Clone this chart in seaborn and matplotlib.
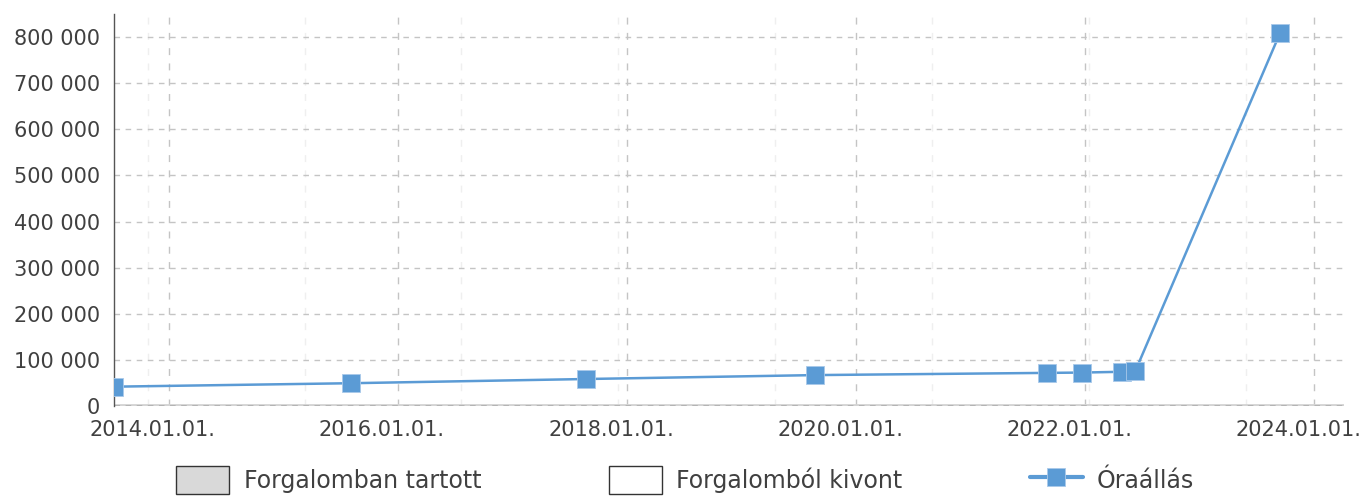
import pandas as pd
import matplotlib.pyplot as plt
import matplotlib.dates as mdates
import matplotlib.ticker as mticker
import matplotlib.transforms as mtransforms
from matplotlib.patches import Patch
from matplotlib.lines import Line2D
import seaborn as sns

# Óraállás adatok
dates = ['2013-07-10', '2015-08-04', '2017-08-22', '2019-08-22', '2021-09-01',
         '2021-12-22', '2022-04-28', '2022-06-09', '2023-09-14']
readings = [41900, 49400, 58500, 67000, 71800, 72500, 74200, 75000, 808700]

year_ticks = ['2014-01-01', '2016-01-01', '2018-01-01', '2020-01-01', '2022-01-01', '2024-01-01']
y_ticks = [0, 100000, 200000, 300000, 400000, 500000, 600000, 700000, 800000]
legend_labels = ['Forgalomban tartott', 'Forgalomból kivont', 'Óraállás']

df = pd.DataFrame({'date': pd.to_datetime(dates), 'km': readings})

sns.set_style("white")
plt.rcParams['font.family'] = ['DejaVu Sans']
text_color = '#404040'
line_color = '#5b9bd5'

fig = plt.figure(figsize=(13.62, 4.97), dpi=100)
ax = fig.add_axes([0.0837, 0.1831, 0.9031, 0.7887])

sns.lineplot(data=df, x='date', y='km', ax=ax, color=line_color, linewidth=1.8,
             marker='s', markersize=13, markeredgecolor='#a9c9ea', markeredgewidth=0.6,
             zorder=5, clip_on=True)

ax.set_xlim(pd.Timestamp('2013-07-10'), pd.Timestamp('2024-04-05'))
ax.set_ylim(0, 850000)

ax.set_xticks(pd.to_datetime(year_ticks))
ax.xaxis.set_major_formatter(mdates.DateFormatter('%Y.%m.%d.'))
ax.set_xticks(pd.date_range('2013-10-26', periods=8, freq='500D'), minor=True)
ax.set_yticks(y_ticks)
ax.yaxis.set_major_formatter(mticker.FuncFormatter(lambda v, p: f'{int(v):,}'.replace(',', ' ')))

ax.grid(axis='y', which='major', color='#c4c4c4', linestyle=(0, (4, 4)), linewidth=1)
ax.grid(axis='x', which='major', color='#c4c4c4', linestyle=(0, (5, 6)), linewidth=1)
ax.grid(axis='x', which='minor', color='#efefef', linestyle=(0, (5, 6)), linewidth=1)
ax.set_axisbelow(True)

# alsó nullvonal
ax.axhline(0, color='#d4d4d4', linewidth=3.5, zorder=2)
ax.axhline(0, color='#333333', linewidth=1, linestyle=(0, (4, 4)), zorder=3)

for s in ['top', 'right', 'bottom']:
    ax.spines[s].set_visible(False)
ax.spines['left'].set_color('#555555')
ax.spines['left'].set_linewidth(1)

ax.tick_params(axis='both', which='major', direction='out', length=6, width=1,
               color='#444444', labelsize=15, labelcolor=text_color)
ax.tick_params(axis='x', which='minor', length=0)
ax.tick_params(axis='x', pad=4)
ax.tick_params(axis='y', pad=4)
ax.set_xlabel('')
ax.set_ylabel('')

offset = mtransforms.ScaledTranslation(-16 / 100, 0, fig.dpi_scale_trans)
for lbl in ax.get_xticklabels():
    lbl.set_transform(lbl.get_transform() + offset)

handles = [
    Patch(facecolor='#d9d9d9', edgecolor='#333333', linewidth=1),
    Patch(facecolor='white', edgecolor='#333333', linewidth=1),
    Line2D([0], [0], color=line_color, linewidth=3, marker='s', markersize=13,
           markeredgecolor='#a9c9ea', markeredgewidth=0.6),
]
leg = fig.legend(handles, legend_labels, loc='center', bbox_to_anchor=(0.5032, 0.034),
                 ncol=3, frameon=False, fontsize=17, handlelength=2.25, handleheight=1.4,
                 handletextpad=0.6, columnspacing=5.4, labelcolor=text_color)

fig.savefig('out.png', dpi=100)
